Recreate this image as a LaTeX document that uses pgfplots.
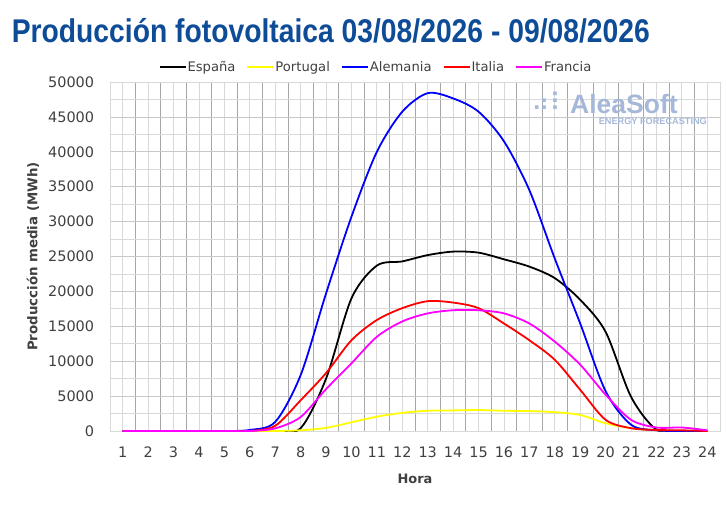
\documentclass[border=0pt]{standalone}
\usepackage{fontspec}
\setmainfont{DejaVu Sans}
\newfontfamily\titlefont[FakeStretch=0.86]{Liberation Sans}
\newfontfamily\logofont{Liberation Sans}
\usepackage{pgfplots}
\usepackage{pgfplotstable}
\pgfplotsset{compat=1.18}
\definecolor{titleblue}{RGB}{14,76,152}
\definecolor{tickgray}{RGB}{64,64,64}
\definecolor{gridlight}{RGB}{217,217,217}
\definecolor{griddark}{RGB}{166,166,166}
\definecolor{gridmid}{RGB}{200,200,200}
\definecolor{logoblue}{RGB}{165,184,218}
\definecolor{cyellow}{RGB}{255,255,0}
\definecolor{cblue}{RGB}{0,0,255}
\definecolor{cred}{RGB}{255,0,0}
\definecolor{cmag}{RGB}{255,0,255}

\pgfplotstableread{
h Espana Portugal Alemania Italia Francia
1 0 0 0 0 0
2 0 0 0 0 0
3 0 0 0 0 0
4 0 0 0 0 0
5 0 0 0 0 0
6 0 0 150 0 0
7 0 0 1300 750 380
8 400 100 8000 4400 2000
9 7500 450 19700 8300 6000
10 19000 1250 30700 13000 9700
11 23700 2050 40000 15900 13500
12 24300 2600 45750 17600 15700
13 25200 2900 48400 18600 16850
14 25700 2950 47650 18400 17300
15 25550 3000 45750 17600 17300
16 24600 2900 41500 15400 16850
17 23550 2850 34500 13000 15400
18 21900 2700 24700 10200 12800
19 18800 2300 15400 5900 9500
20 14200 1100 5700 1600 5200
21 4900 400 900 400 1600
22 200 100 100 150 500
23 0 0 0 100 500
24 0 0 0 0 100
}\datatable

\begin{document}
\begin{tikzpicture}
\begin{axis}[
  scale only axis, width=610bp, height=349bp,
  xmin=0.5, xmax=24.5, ymin=0, ymax=50000,
  xtick={1,...,24}, minor xtick={0.5,1.5,...,24.5},
  ytick={0,5000,...,50000}, minor ytick={2500,7500,...,47500},
  scaled y ticks=false,
  grid=both,
  major x grid style={draw=gridlight, line width=0.8bp},
  minor x grid style={draw=griddark, line width=0.8bp},
  major y grid style={draw=gridmid, line width=0.8bp},
  minor y grid style={draw=gridlight, line width=0.8bp},
  major tick length=0pt, minor tick length=0pt,
  axis line style={draw=gridlight, line width=0.8bp},
  tick label style={font=\fontsize{14.5}{17}\selectfont, text=tickgray, inner sep=0pt},
  /pgf/number format/1000 sep={}, /pgf/number format/assume math mode=true,
  yticklabel style={anchor=east, xshift=-15.7bp},
  xticklabel style={anchor=north, yshift=-16bp},
  xlabel={Hora},
  xlabel style={font=\bfseries\fontsize{13}{15}\selectfont, text=tickgray, at={(axis description cs:0.5,-0.149)}, anchor=base, inner sep=0pt},
  ylabel={Producción media (MWh)},
  ylabel style={font=\bfseries\fontsize{13.4}{15}\selectfont, text=tickgray, at={(axis description cs:-0.1262,0.5)}, anchor=center, inner sep=0pt},
  legend columns=5,
  legend style={at={(axis description cs:0.4352,1.043)}, anchor=center, draw=none, fill=none,
    font=\fontsize{13.2}{15}\selectfont, text=tickgray, inner sep=0pt,
    nodes={inner xsep=1bp, inner ysep=1bp},
    /tikz/every even column/.append style={column sep=10bp}},
  legend image code/.code={\draw[#1, line width=2bp] (0bp,0bp) -- (26bp,0bp);},
  every axis plot/.append style={line width=1.8bp, smooth},
]
\addplot[color=black] table[x=h, y=Espana] {\datatable};
\addlegendentry{España}
\addplot[color=cyellow] table[x=h, y=Portugal] {\datatable};
\addlegendentry{Portugal}
\addplot[color=cblue] table[x=h, y=Alemania] {\datatable};
\addlegendentry{Alemania}
\addplot[color=cred] table[x=h, y=Italia] {\datatable};
\addlegendentry{Italia}
\addplot[color=cmag] table[x=h, y=Francia] {\datatable};
\addlegendentry{Francia}
\end{axis}
\node[anchor=base west, inner sep=0pt, text=titleblue, font=\titlefont\bfseries\fontsize{33}{36}\selectfont] at (-98.4bp,388bp) {Producción fotovoltaica 03/08/2026 - 09/08/2026};
\node[anchor=base west, inner sep=0pt, text=logoblue, font=\logofont\bfseries\fontsize{26.6}{30}\selectfont] at (460bp,317.7bp) {AleaSoft};
\node[anchor=base east, inner sep=0pt, text=logoblue, font=\logofont\bfseries\fontsize{9.2}{10}\selectfont] at (597bp,306bp) {ENERGY FORECASTING};
\node[anchor=base east, inner sep=0pt, text=logoblue, font=\fontsize{25}{26}\selectfont] at (458bp,319bp) {⠴⠇};
\pgfresetboundingbox
\path[use as bounding box] (-110bp,-78bp) rectangle (617bp,431bp);
\end{tikzpicture}
\end{document}
